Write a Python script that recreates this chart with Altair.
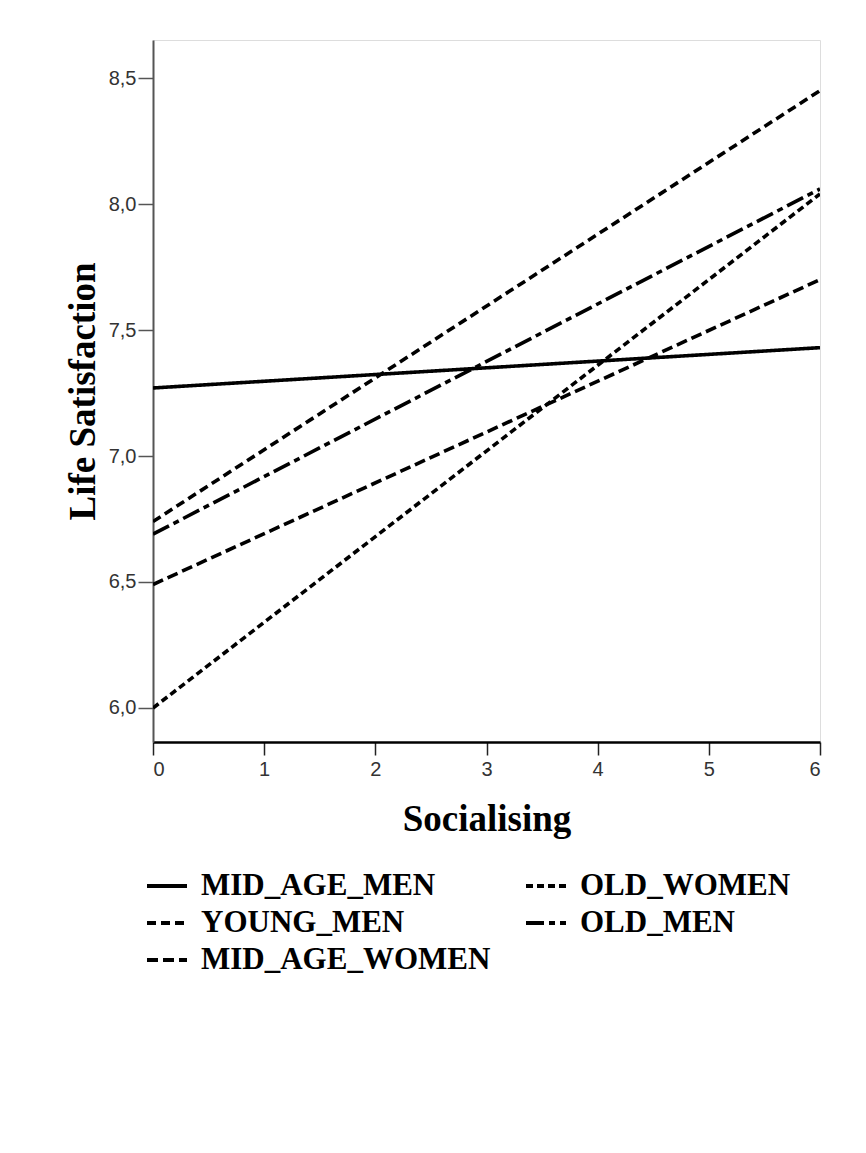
import altair as alt
import pandas as pd

series = ["MID_AGE_MEN", "YOUNG_MEN", "MID_AGE_WOMEN", "OLD_WOMEN", "OLD_MEN"]
x_values = [0, 6]
start_values = [7.27, 6.74, 6.49, 6.00, 6.69]
end_values = [7.43, 8.45, 7.70, 8.04, 8.06]
dashes = [[1, 0], [9, 5], [11, 5], [7, 4], [18, 5, 6, 5]]
y_ticks = [6.0, 6.5, 7.0, 7.5, 8.0, 8.5]
x_ticks = [0, 1, 2, 3, 4, 5, 6]

rows = []
for s, a, b in zip(series, start_values, end_values):
    rows.append({"group": s, "Socialising": x_values[0], "Life": a})
    rows.append({"group": s, "Socialising": x_values[1], "Life": b})
df = pd.DataFrame(rows)

serif = "Liberation Serif"
sans = "Liberation Sans"

chart = alt.Chart(df).mark_line(color="black", strokeWidth=3.6, clip=True).encode(
    x=alt.X("Socialising:Q",
            scale=alt.Scale(domain=[0, 6], nice=False, zero=False),
            axis=alt.Axis(values=x_ticks, title="Socialising", format="d",
                          titleFont=serif, titleFontSize=37, titleFontWeight="bold",
                          titleColor="black", titlePadding=22,
                          labelFont=sans, labelFontSize=20, labelColor="#333",
                          labelPadding=4, tickSize=13, tickColor="#222", tickWidth=1.5,
                          domainColor="black", domainWidth=2.5, grid=False)),
    y=alt.Y("Life:Q",
            scale=alt.Scale(domain=[5.865, 8.651], nice=False, zero=False),
            axis=alt.Axis(values=y_ticks, title="Life Satisfaction",
                          labelExpr="replace(format(datum.value, '.1f'), '.', ',')",
                          titleFont=serif, titleFontSize=37, titleFontWeight="bold",
                          titleColor="black", titlePadding=6,
                          labelFont=sans, labelFontSize=20, labelColor="#333",
                          labelPadding=2, tickSize=15, tickColor="#555", tickWidth=1.5,
                          domainColor="#555", domainWidth=2, grid=False)),
    strokeDash=alt.StrokeDash("group:N",
                              scale=alt.Scale(domain=series, range=dashes),
                              legend=alt.Legend(title=None, orient="none",
                                                legendX=-8, legendY=824,
                                                columns=2, columnPadding=27, rowPadding=0,
                                                symbolType="stroke", symbolSize=1600,
                                                symbolStrokeWidth=4, symbolStrokeColor="black",
                                                labelFont=serif, labelFontSize=31,
                                                labelFontWeight="bold", labelColor="black",
                                                labelOffset=12, labelLimit=0)),
).properties(
    width=667,
    height=702,
    padding={"left": 56, "top": 32, "right": 20, "bottom": 20},
).configure_view(
    stroke="#444", strokeWidth=2
).configure(background="white")

chart.save("out.html", embed_options={"renderer": "svg", "actions": False})
